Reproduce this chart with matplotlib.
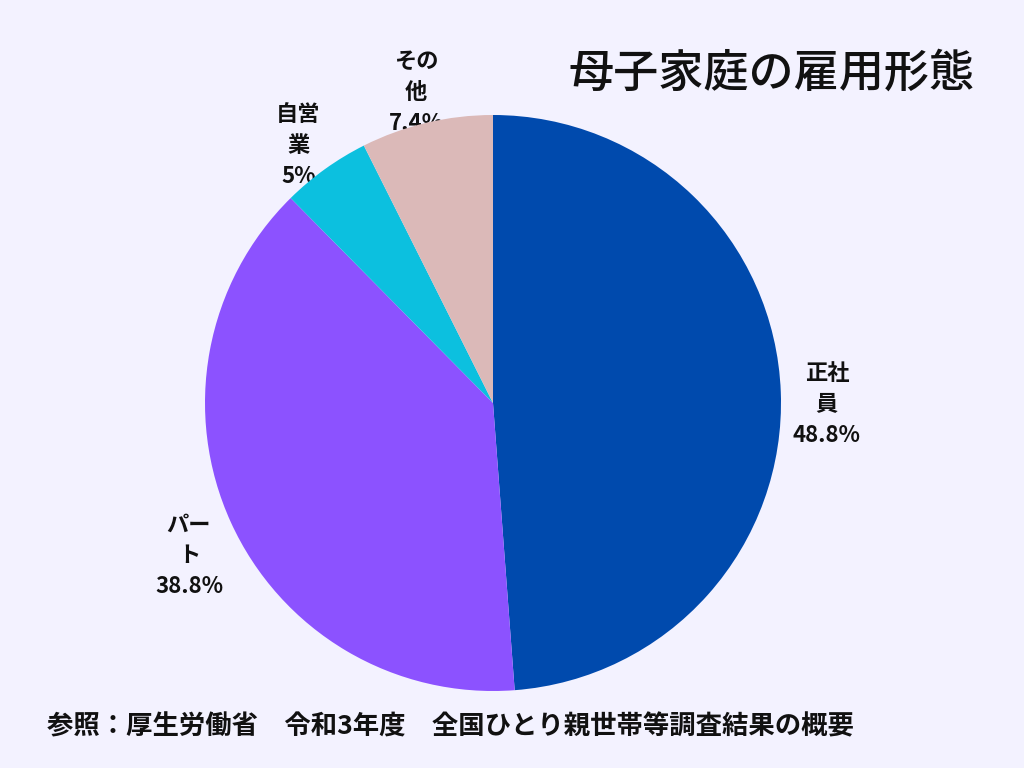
import matplotlib
matplotlib.use("Agg")
import matplotlib.pyplot as plt
import numpy as np

categories = ["正社員", "パート", "自営業", "その他"]
label_lines = ["正社\n員", "パー\nト", "自営\n業", "その\n他"]
values = [48.8, 38.8, 5.0, 7.4]
value_labels = ["48.8%", "38.8%", "5%", "7.4%"]
colors = ["#004aad", "#8c52ff", "#0cc0df", "#dbb9b8"]
title = "母子家庭の雇用形態"
source = "参照：厚生労働省　令和3年度　全国ひとり親世帯等調査結果の概要"

bg = "#f3f2ff"
plt.rcParams['font.family'] = ['Noto Sans CJK JP', 'DejaVu Sans']

fig = plt.figure(figsize=(10.24, 7.68), dpi=100, facecolor=bg)
W, H = 1024, 768
cx, cy, r = 493, 403, 288
ax = fig.add_axes([(cx - r) / W, 1 - (cy + r) / H, 2*r / W, 2*r / H])
ax.set_facecolor("none")
wedges, _ = ax.pie(values, colors=colors, startangle=90, counterclock=False,
                   wedgeprops=dict(linewidth=0, zorder=2))
ax.set_xlim(-1, 1)
ax.set_ylim(-1, 1)
ax.set_aspect('equal')
ax.axis('off')

total = sum(values)
d = 1.16
yshift = -0.05
start = 90.0
for lab, vl, v in zip(label_lines, value_labels, values):
    span = 360.0 * v / total
    mid = np.deg2rad(start - span / 2)
    start -= span
    ax.text(d * np.cos(mid), d * np.sin(mid) + yshift, lab + "\n" + vl,
            ha='center', va='center', fontsize=16, fontweight='bold',
            linespacing=1.45, color='#111111', zorder=1, clip_on=False)

fig.text(975 / W, 1 - 73 / H, title, ha='right', va='center', fontsize=32.5,
         color='#111111', fontweight='medium')
fig.text(47 / W, 1 - 727 / H, source, ha='left', va='center', fontsize=19,
         fontweight='bold', color='#111111')

fig.savefig("out.png", dpi=100, facecolor=bg)
